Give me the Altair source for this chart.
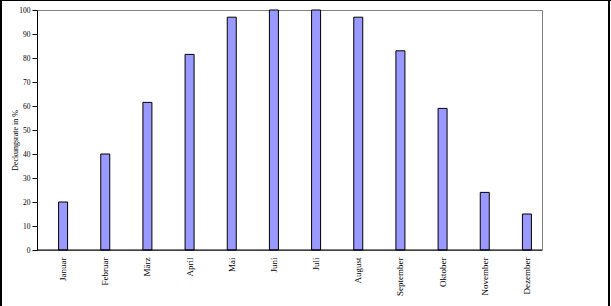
import altair as alt
import pandas as pd

months = ["Januar", "Februar", "März", "April", "Mai", "Juni", "Juli",
          "August", "September", "Oktober", "November", "Dezember"]
values = [20, 40, 61.5, 81.5, 97, 100, 100, 97, 83, 59, 24, 15]
y_ticks = [0, 10, 20, 30, 40, 50, 60, 70, 80, 90, 100]

df = pd.DataFrame({"Monat": months, "Wert": values})
one = pd.DataFrame({"a": [0]})

W, H = 505, 240
FONT = "Liberation Serif"

bars = alt.Chart(df).mark_bar(
    width=9, fill="#9999FF", stroke="black", strokeWidth=1
).encode(
    x=alt.X("Monat:N", sort=months,
            scale=alt.Scale(range=[5, 511], paddingInner=0, paddingOuter=0),
            axis=alt.Axis(title=None, domain=False, ticks=False, labelAngle=270,
                          labelAlign="right", labelBaseline="middle",
                          labelPadding=7, labelFont=FONT, labelFontSize=9,
                          labelColor="black", grid=False)),
    y=alt.Y("Wert:Q", scale=alt.Scale(domain=[0, 100], nice=False),
            axis=alt.Axis(title="Deckungsrate in %", values=y_ticks,
                          grid=False, domainColor="black", tickColor="black",
                          tickSize=5, labelFont=FONT, labelFontSize=7.5,
                          labelColor="black", labelPadding=2,
                          titleFont=FONT, titleFontSize=8, titleFontWeight="normal",
                          titleColor="black", titleX=-22, titleY=130,
                          titleAngle=270, titleBaseline="middle")),
)

bottom_axis = alt.Chart(one).mark_rule(color="black", strokeWidth=1).encode(
    x=alt.value(0), x2=alt.value(W), y=alt.value(H))

frame_left = alt.Chart(one).mark_rule(color="black", strokeWidth=2).encode(
    x=alt.value(-36), y=alt.value(-10), y2=alt.value(300))
frame_right = alt.Chart(one).mark_rule(color="black", strokeWidth=2).encode(
    x=alt.value(572), y=alt.value(-10), y2=alt.value(300))
frame_top = alt.Chart(one).mark_rule(color="black", strokeWidth=1).encode(
    x=alt.value(-37), x2=alt.value(574), y=alt.value(-9.5))

chart = alt.layer(bars, bottom_axis, frame_left, frame_right, frame_top).properties(
    width=W, height=H,
    autosize=alt.AutoSizeParams(type="none"),
    padding={"left": 37, "top": 10, "right": 69, "bottom": 56},
    background="white",
).configure_view(stroke="#808080", strokeWidth=1)

chart.save("out.html", embed_options={"renderer": "svg", "actions": False})
